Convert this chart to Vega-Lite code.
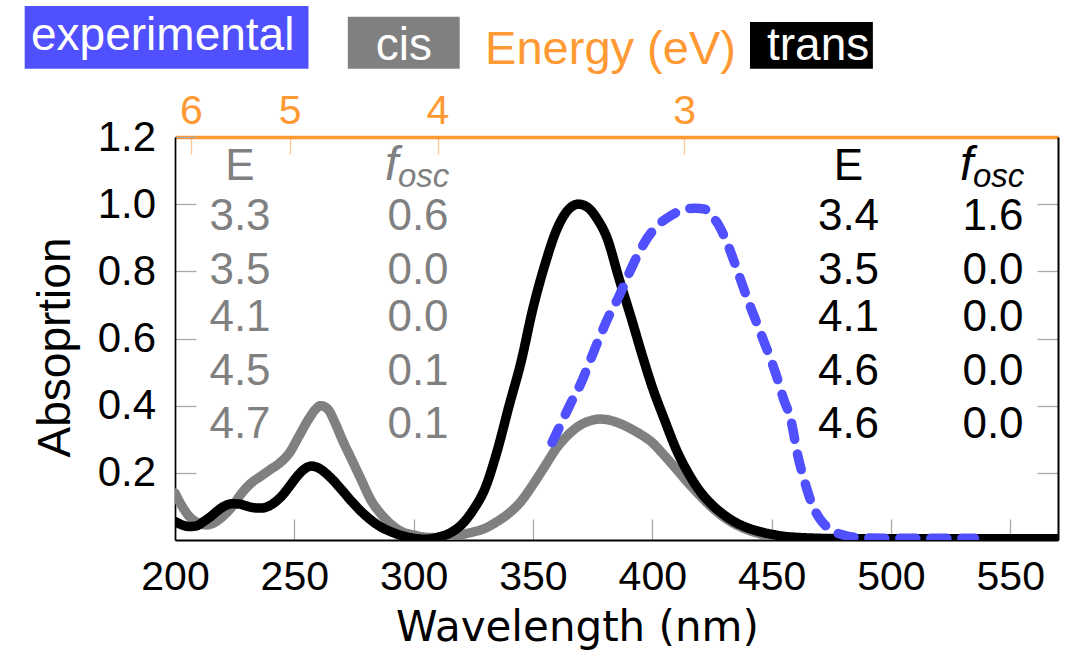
{
  "$schema": "https://vega.github.io/schema/vega-lite/v6.json",
  "width": 883,
  "height": 403,
  "autosize": {"type": "none"},
  "padding": {"left": 175, "top": 137, "right": 19, "bottom": 124},
  "background": "white",
  "config": {
    "font": "Liberation Sans",
    "view": {"stroke": null},
    "axis": {"grid": false, "labelFlush": false, "labelOverlap": false, "titleFontWeight": "normal", "labelFont": "Liberation Sans", "titleFont": "Liberation Sans"}
  },
  "datasets": {
    "curves": [
      {"series": "cis", "wavelength": 200, "absorption": 0.14},
      {"series": "cis", "wavelength": 203, "absorption": 0.10},
      {"series": "cis", "wavelength": 206, "absorption": 0.07},
      {"series": "cis", "wavelength": 210, "absorption": 0.05},
      {"series": "cis", "wavelength": 213, "absorption": 0.045},
      {"series": "cis", "wavelength": 216, "absorption": 0.05},
      {"series": "cis", "wavelength": 220, "absorption": 0.07},
      {"series": "cis", "wavelength": 224, "absorption": 0.10},
      {"series": "cis", "wavelength": 228, "absorption": 0.14},
      {"series": "cis", "wavelength": 232, "absorption": 0.17},
      {"series": "cis", "wavelength": 236, "absorption": 0.19},
      {"series": "cis", "wavelength": 240, "absorption": 0.21},
      {"series": "cis", "wavelength": 244, "absorption": 0.23},
      {"series": "cis", "wavelength": 248, "absorption": 0.26},
      {"series": "cis", "wavelength": 252, "absorption": 0.31},
      {"series": "cis", "wavelength": 256, "absorption": 0.36},
      {"series": "cis", "wavelength": 259, "absorption": 0.39},
      {"series": "cis", "wavelength": 261, "absorption": 0.40},
      {"series": "cis", "wavelength": 264, "absorption": 0.39},
      {"series": "cis", "wavelength": 267, "absorption": 0.35},
      {"series": "cis", "wavelength": 270, "absorption": 0.30},
      {"series": "cis", "wavelength": 274, "absorption": 0.24},
      {"series": "cis", "wavelength": 278, "absorption": 0.18},
      {"series": "cis", "wavelength": 282, "absorption": 0.12},
      {"series": "cis", "wavelength": 286, "absorption": 0.08},
      {"series": "cis", "wavelength": 290, "absorption": 0.05},
      {"series": "cis", "wavelength": 295, "absorption": 0.025},
      {"series": "cis", "wavelength": 300, "absorption": 0.015},
      {"series": "cis", "wavelength": 305, "absorption": 0.008},
      {"series": "cis", "wavelength": 310, "absorption": 0.007},
      {"series": "cis", "wavelength": 315, "absorption": 0.01},
      {"series": "cis", "wavelength": 320, "absorption": 0.016},
      {"series": "cis", "wavelength": 325, "absorption": 0.024},
      {"series": "cis", "wavelength": 330, "absorption": 0.035},
      {"series": "cis", "wavelength": 335, "absorption": 0.055},
      {"series": "cis", "wavelength": 340, "absorption": 0.08},
      {"series": "cis", "wavelength": 345, "absorption": 0.115},
      {"series": "cis", "wavelength": 350, "absorption": 0.165},
      {"series": "cis", "wavelength": 355, "absorption": 0.22},
      {"series": "cis", "wavelength": 360, "absorption": 0.275},
      {"series": "cis", "wavelength": 365, "absorption": 0.315},
      {"series": "cis", "wavelength": 370, "absorption": 0.343},
      {"series": "cis", "wavelength": 375, "absorption": 0.357},
      {"series": "cis", "wavelength": 378, "absorption": 0.36},
      {"series": "cis", "wavelength": 382, "absorption": 0.357},
      {"series": "cis", "wavelength": 386, "absorption": 0.348},
      {"series": "cis", "wavelength": 390, "absorption": 0.335},
      {"series": "cis", "wavelength": 395, "absorption": 0.315},
      {"series": "cis", "wavelength": 400, "absorption": 0.29},
      {"series": "cis", "wavelength": 405, "absorption": 0.252},
      {"series": "cis", "wavelength": 410, "absorption": 0.212},
      {"series": "cis", "wavelength": 415, "absorption": 0.17},
      {"series": "cis", "wavelength": 420, "absorption": 0.132},
      {"series": "cis", "wavelength": 425, "absorption": 0.097},
      {"series": "cis", "wavelength": 430, "absorption": 0.068},
      {"series": "cis", "wavelength": 435, "absorption": 0.046},
      {"series": "cis", "wavelength": 440, "absorption": 0.03},
      {"series": "cis", "wavelength": 445, "absorption": 0.019},
      {"series": "cis", "wavelength": 450, "absorption": 0.012},
      {"series": "cis", "wavelength": 455, "absorption": 0.008},
      {"series": "cis", "wavelength": 460, "absorption": 0.005},
      {"series": "cis", "wavelength": 470, "absorption": 0.003},
      {"series": "cis", "wavelength": 480, "absorption": 0.002},
      {"series": "cis", "wavelength": 570, "absorption": 0.002},
      {"series": "trans", "wavelength": 200, "absorption": 0.055},
      {"series": "trans", "wavelength": 203, "absorption": 0.045},
      {"series": "trans", "wavelength": 206, "absorption": 0.04},
      {"series": "trans", "wavelength": 209, "absorption": 0.042},
      {"series": "trans", "wavelength": 212, "absorption": 0.055},
      {"series": "trans", "wavelength": 215, "absorption": 0.07},
      {"series": "trans", "wavelength": 218, "absorption": 0.088},
      {"series": "trans", "wavelength": 221, "absorption": 0.102},
      {"series": "trans", "wavelength": 224, "absorption": 0.108},
      {"series": "trans", "wavelength": 227, "absorption": 0.107},
      {"series": "trans", "wavelength": 230, "absorption": 0.101},
      {"series": "trans", "wavelength": 233, "absorption": 0.096},
      {"series": "trans", "wavelength": 236, "absorption": 0.095},
      {"series": "trans", "wavelength": 239, "absorption": 0.1},
      {"series": "trans", "wavelength": 242, "absorption": 0.113},
      {"series": "trans", "wavelength": 245, "absorption": 0.133},
      {"series": "trans", "wavelength": 248, "absorption": 0.16},
      {"series": "trans", "wavelength": 251, "absorption": 0.188},
      {"series": "trans", "wavelength": 254, "absorption": 0.21},
      {"series": "trans", "wavelength": 257, "absorption": 0.22},
      {"series": "trans", "wavelength": 260, "absorption": 0.215},
      {"series": "trans", "wavelength": 263, "absorption": 0.2},
      {"series": "trans", "wavelength": 266, "absorption": 0.18},
      {"series": "trans", "wavelength": 270, "absorption": 0.148},
      {"series": "trans", "wavelength": 274, "absorption": 0.115},
      {"series": "trans", "wavelength": 278, "absorption": 0.085},
      {"series": "trans", "wavelength": 282, "absorption": 0.06},
      {"series": "trans", "wavelength": 286, "absorption": 0.04},
      {"series": "trans", "wavelength": 290, "absorption": 0.026},
      {"series": "trans", "wavelength": 295, "absorption": 0.013},
      {"series": "trans", "wavelength": 300, "absorption": 0.005},
      {"series": "trans", "wavelength": 305, "absorption": 0.002},
      {"series": "trans", "wavelength": 310, "absorption": 0.008},
      {"series": "trans", "wavelength": 315, "absorption": 0.02},
      {"series": "trans", "wavelength": 320, "absorption": 0.045},
      {"series": "trans", "wavelength": 325, "absorption": 0.09},
      {"series": "trans", "wavelength": 330, "absorption": 0.155},
      {"series": "trans", "wavelength": 335, "absorption": 0.265},
      {"series": "trans", "wavelength": 340, "absorption": 0.4},
      {"series": "trans", "wavelength": 345, "absorption": 0.53},
      {"series": "trans", "wavelength": 350, "absorption": 0.69},
      {"series": "trans", "wavelength": 355, "absorption": 0.82},
      {"series": "trans", "wavelength": 360, "absorption": 0.925},
      {"series": "trans", "wavelength": 365, "absorption": 0.985},
      {"series": "trans", "wavelength": 369, "absorption": 1.0},
      {"series": "trans", "wavelength": 373, "absorption": 0.99},
      {"series": "trans", "wavelength": 377, "absorption": 0.955},
      {"series": "trans", "wavelength": 381, "absorption": 0.9},
      {"series": "trans", "wavelength": 386, "absorption": 0.78},
      {"series": "trans", "wavelength": 391, "absorption": 0.665},
      {"series": "trans", "wavelength": 396, "absorption": 0.545},
      {"series": "trans", "wavelength": 400, "absorption": 0.455},
      {"series": "trans", "wavelength": 405, "absorption": 0.36},
      {"series": "trans", "wavelength": 410, "absorption": 0.27},
      {"series": "trans", "wavelength": 415, "absorption": 0.2},
      {"series": "trans", "wavelength": 420, "absorption": 0.145},
      {"series": "trans", "wavelength": 425, "absorption": 0.105},
      {"series": "trans", "wavelength": 430, "absorption": 0.075},
      {"series": "trans", "wavelength": 435, "absorption": 0.052},
      {"series": "trans", "wavelength": 440, "absorption": 0.036},
      {"series": "trans", "wavelength": 445, "absorption": 0.025},
      {"series": "trans", "wavelength": 450, "absorption": 0.017},
      {"series": "trans", "wavelength": 455, "absorption": 0.011},
      {"series": "trans", "wavelength": 460, "absorption": 0.008},
      {"series": "trans", "wavelength": 470, "absorption": 0.005},
      {"series": "trans", "wavelength": 480, "absorption": 0.004},
      {"series": "trans", "wavelength": 570, "absorption": 0.004},
      {"series": "experimental", "wavelength": 358, "absorption": 0.29},
      {"series": "experimental", "wavelength": 362, "absorption": 0.35},
      {"series": "experimental", "wavelength": 366, "absorption": 0.41},
      {"series": "experimental", "wavelength": 370, "absorption": 0.465},
      {"series": "experimental", "wavelength": 374, "absorption": 0.535},
      {"series": "experimental", "wavelength": 378, "absorption": 0.605},
      {"series": "experimental", "wavelength": 382, "absorption": 0.67},
      {"series": "experimental", "wavelength": 386, "absorption": 0.725},
      {"series": "experimental", "wavelength": 390, "absorption": 0.79},
      {"series": "experimental", "wavelength": 394, "absorption": 0.85},
      {"series": "experimental", "wavelength": 398, "absorption": 0.9},
      {"series": "experimental", "wavelength": 402, "absorption": 0.935},
      {"series": "experimental", "wavelength": 406, "absorption": 0.958},
      {"series": "experimental", "wavelength": 410, "absorption": 0.975},
      {"series": "experimental", "wavelength": 414, "absorption": 0.985},
      {"series": "experimental", "wavelength": 418, "absorption": 0.988},
      {"series": "experimental", "wavelength": 422, "absorption": 0.985},
      {"series": "experimental", "wavelength": 425, "absorption": 0.965},
      {"series": "experimental", "wavelength": 428, "absorption": 0.935},
      {"series": "experimental", "wavelength": 431, "absorption": 0.89},
      {"series": "experimental", "wavelength": 434, "absorption": 0.835},
      {"series": "experimental", "wavelength": 437, "absorption": 0.775},
      {"series": "experimental", "wavelength": 440, "absorption": 0.715},
      {"series": "experimental", "wavelength": 443, "absorption": 0.66},
      {"series": "experimental", "wavelength": 446, "absorption": 0.605},
      {"series": "experimental", "wavelength": 449, "absorption": 0.55},
      {"series": "experimental", "wavelength": 452, "absorption": 0.49},
      {"series": "experimental", "wavelength": 455, "absorption": 0.42},
      {"series": "experimental", "wavelength": 458, "absorption": 0.36},
      {"series": "experimental", "wavelength": 461, "absorption": 0.25},
      {"series": "experimental", "wavelength": 464, "absorption": 0.17},
      {"series": "experimental", "wavelength": 467, "absorption": 0.105},
      {"series": "experimental", "wavelength": 470, "absorption": 0.065},
      {"series": "experimental", "wavelength": 473, "absorption": 0.04},
      {"series": "experimental", "wavelength": 476, "absorption": 0.025},
      {"series": "experimental", "wavelength": 480, "absorption": 0.015},
      {"series": "experimental", "wavelength": 485, "absorption": 0.008},
      {"series": "experimental", "wavelength": 490, "absorption": 0.006},
      {"series": "experimental", "wavelength": 500, "absorption": 0.005},
      {"series": "experimental", "wavelength": 510, "absorption": 0.005},
      {"series": "experimental", "wavelength": 520, "absorption": 0.005},
      {"series": "experimental", "wavelength": 535, "absorption": 0.005}
    ],
    "table": [
      {"isomer": "cis", "quantity": "E", "rank": 0, "label": "E"},
      {"isomer": "cis", "quantity": "f", "rank": 0, "label": "f", "sub": "osc"},
      {"isomer": "cis", "quantity": "E", "rank": 1, "label": "3.3"},
      {"isomer": "cis", "quantity": "f", "rank": 1, "label": "0.6"},
      {"isomer": "cis", "quantity": "E", "rank": 2, "label": "3.5"},
      {"isomer": "cis", "quantity": "f", "rank": 2, "label": "0.0"},
      {"isomer": "cis", "quantity": "E", "rank": 3, "label": "4.1"},
      {"isomer": "cis", "quantity": "f", "rank": 3, "label": "0.0"},
      {"isomer": "cis", "quantity": "E", "rank": 4, "label": "4.5"},
      {"isomer": "cis", "quantity": "f", "rank": 4, "label": "0.1"},
      {"isomer": "cis", "quantity": "E", "rank": 5, "label": "4.7"},
      {"isomer": "cis", "quantity": "f", "rank": 5, "label": "0.1"},
      {"isomer": "trans", "quantity": "E", "rank": 0, "label": "E"},
      {"isomer": "trans", "quantity": "f", "rank": 0, "label": "f", "sub": "osc"},
      {"isomer": "trans", "quantity": "E", "rank": 1, "label": "3.4"},
      {"isomer": "trans", "quantity": "f", "rank": 1, "label": "1.6"},
      {"isomer": "trans", "quantity": "E", "rank": 2, "label": "3.5"},
      {"isomer": "trans", "quantity": "f", "rank": 2, "label": "0.0"},
      {"isomer": "trans", "quantity": "E", "rank": 3, "label": "4.1"},
      {"isomer": "trans", "quantity": "f", "rank": 3, "label": "0.0"},
      {"isomer": "trans", "quantity": "E", "rank": 4, "label": "4.6"},
      {"isomer": "trans", "quantity": "f", "rank": 4, "label": "0.0"},
      {"isomer": "trans", "quantity": "E", "rank": 5, "label": "4.6"},
      {"isomer": "trans", "quantity": "f", "rank": 5, "label": "0.0"}
    ],
    "legend": [
      {"series": "experimental", "order": 0},
      {"series": "cis", "order": 1},
      {"series": "trans", "order": 2}
    ]
  },
  "layer": [
    {
      "data": {"name": "curves"},
      "mark": {"type": "line", "clip": true, "strokeCap": "round", "strokeJoin": "round", "interpolate": "monotone", "strokeWidth": 9.5},
      "encoding": {
        "x": {
          "field": "wavelength", "type": "quantitative",
          "scale": {"domain": [200, 570], "nice": false, "zero": false},
          "axis": {
            "orient": "bottom", "values": [200, 250, 300, 350, 400, 450, 500, 550], "format": "d",
            "title": "Wavelength (nm)", "titleFont": "DejaVu Sans", "titleFontSize": 42, "titleX": 402, "titleY": 100, "titleAlign": "center", "titleBaseline": "alphabetic", "titleColor": "#000000",
            "labelFontSize": 41, "labelBaseline": "alphabetic", "labelPadding": 70.5, "labelColor": "#000000",
            "tickSize": -21, "tickColor": "#aaaaaa", "tickWidth": 1.3,
            "domainColor": "#000000", "domainWidth": 2
          }
        },
        "y": {
          "field": "absorption", "type": "quantitative",
          "scale": {"domain": [0, 1.2], "nice": false, "zero": false},
          "axis": {
            "orient": "left", "values": [0.2, 0.4, 0.6, 0.8, 1.0, 1.2], "format": ".1f",
            "title": "Absoprtion", "titleFontSize": 46, "titleX": -106, "titleY": 210, "titleAlign": "center", "titleBaseline": "alphabetic", "titleColor": "#000000",
            "labelFontSize": 42, "labelPadding": 40.4, "labelColor": "#000000",
            "tickSize": -21, "tickColor": "#aaaaaa", "tickWidth": 1.3,
            "domainColor": "#000000", "domainWidth": 1.7
          }
        },
        "color": {"field": "series", "type": "nominal", "scale": {"domain": ["experimental", "cis", "trans"], "range": ["#5050FF", "#808080", "#000000"]}, "legend": null},
        "strokeDash": {"field": "series", "type": "nominal", "scale": {"domain": ["experimental", "cis", "trans"], "range": [[16, 15], [1, 0], [1, 0]]}, "legend": null}
      }
    },
    {
      "data": {"name": "curves"},
      "mark": {"type": "point", "opacity": 0},
      "encoding": {
        "x": {
          "field": "wavelength", "type": "quantitative",
          "scale": {"domain": [200, 570], "nice": false, "zero": false},
          "axis": {
            "orient": "top", "values": [206.6667, 248, 310, 413.3333],
            "labelExpr": "format(1240 / datum.value, '.0f')",
            "labelColor": "#FF9933", "labelFontSize": 41, "labelBaseline": "alphabetic", "labelPadding": 31,
            "tickSize": -17, "tickColor": "#FFC994", "tickWidth": 1.3,
            "domainColor": "#FF9933", "domainWidth": 3.5,
            "title": "Energy (eV)", "titleColor": "#FF9933", "titleFontSize": 47, "titleX": 435, "titleY": -73.7, "titleAlign": "center", "titleBaseline": "alphabetic"
          }
        },
        "y": {
          "field": "absorption", "type": "quantitative",
          "scale": {"domain": [0, 1.2], "nice": false, "zero": false},
          "axis": {
            "orient": "right", "values": [0.2, 0.4, 0.6, 0.8, 1.0], "labels": false, "title": null,
            "tickSize": -21, "tickColor": "#aaaaaa", "tickWidth": 1.3,
            "domainColor": "#000000", "domainWidth": 2
          }
        }
      }
    },
    {
      "data": {"name": "table"},
      "transform": [{"filter": "datum.isomer == 'cis' && datum.label != 'f'"}],
      "mark": {"type": "text", "fontSize": 44, "baseline": "alphabetic", "align": "center", "color": "#808080"},
      "encoding": {
        "x": {"field": "quantity", "type": "nominal", "scale": {"type": "point", "domain": ["E", "f"], "range": [65, 243], "padding": 0}, "axis": null},
        "y": {"field": "rank", "type": "quantitative", "scale": {"domain": [0, 1, 2, 3, 4, 5], "range": [43, 93, 147, 194, 248, 301.3], "nice": false, "zero": false}, "axis": null},
        "text": {"field": "label"}
      }
    },
    {
      "data": {"name": "table"},
      "transform": [{"filter": "datum.isomer == 'trans' && datum.label != 'f'"}],
      "mark": {"type": "text", "fontSize": 44, "baseline": "alphabetic", "align": "center", "color": "#000000"},
      "encoding": {
        "x": {"field": "quantity", "type": "nominal", "scale": {"type": "point", "domain": ["E", "f"], "range": [673.5, 818], "padding": 0}, "axis": null},
        "y": {"field": "rank", "type": "quantitative", "scale": {"domain": [0, 1, 2, 3, 4, 5], "range": [43, 93, 147, 194, 248, 301.3], "nice": false, "zero": false}, "axis": null},
        "text": {"field": "label"}
      }
    },
    {
      "data": {"name": "table"},
      "transform": [{"filter": "datum.label == 'f'"}],
      "mark": {"type": "text", "fontSize": 48, "fontStyle": "italic", "baseline": "alphabetic", "align": "left", "dx": -33},
      "encoding": {
        "x": {"field": "isomer", "type": "nominal", "scale": {"type": "point", "domain": ["cis", "trans"], "range": [243, 818], "padding": 0}, "axis": null},
        "y": {"field": "rank", "type": "quantitative", "scale": {"domain": [0, 1, 2, 3, 4, 5], "range": [43, 93, 147, 194, 248, 301.3], "nice": false, "zero": false}, "axis": null},
        "color": {"field": "isomer", "type": "nominal", "scale": {"domain": ["cis", "trans"], "range": ["#808080", "#000000"]}, "legend": null},
        "text": {"field": "label"}
      }
    },
    {
      "data": {"name": "table"},
      "transform": [{"filter": "datum.label == 'f'"}],
      "mark": {"type": "text", "fontSize": 33, "fontStyle": "italic", "baseline": "alphabetic", "align": "left", "dx": -20, "dy": 6.7},
      "encoding": {
        "x": {"field": "isomer", "type": "nominal", "scale": {"type": "point", "domain": ["cis", "trans"], "range": [243, 818], "padding": 0}, "axis": null},
        "y": {"field": "rank", "type": "quantitative", "scale": {"domain": [0, 1, 2, 3, 4, 5], "range": [43, 93, 147, 194, 248, 301.3], "nice": false, "zero": false}, "axis": null},
        "color": {"field": "isomer", "type": "nominal", "scale": {"domain": ["cis", "trans"], "range": ["#808080", "#000000"]}, "legend": null},
        "text": {"field": "sub"}
      }
    },
    {
      "data": {"name": "legend"},
      "mark": {"type": "bar", "orient": "vertical"},
      "encoding": {
        "x": {"field": "order", "type": "quantitative", "scale": {"domain": [0, 1, 2], "range": [-12.1, 228.75, 642.75], "nice": false, "zero": false}, "axis": null},
        "size": {"field": "order", "type": "quantitative", "scale": {"domain": [0, 1, 2], "range": [283.8, 111.9, 122.9], "nice": false, "zero": false}, "legend": null},
        "y": {"field": "order", "type": "quantitative", "scale": {"domain": [0, 1, 2, 3], "range": [-131, -120.3, -115, -68.3], "nice": false, "zero": false}, "axis": null},
        "y2": {"datum": 3},
        "color": {"field": "series", "type": "nominal", "scale": {"domain": ["experimental", "cis", "trans"], "range": ["#5050FF", "#808080", "#000000"]}, "legend": null}
      }
    },
    {
      "data": {"name": "legend"},
      "mark": {"type": "text", "fontSize": 46, "baseline": "alphabetic", "align": "center", "color": "#ffffff"},
      "encoding": {
        "x": {"field": "order", "type": "quantitative", "scale": {"domain": [0, 1, 2], "range": [-12.3, 228.9, 643.1], "nice": false, "zero": false}, "axis": null},
        "y": {"field": "order", "type": "quantitative", "scale": {"domain": [0, 1, 2], "range": [-87, -77, -77], "nice": false, "zero": false}, "axis": null},
        "text": {"field": "series"}
      }
    }
  ],
  "resolve": {
    "scale": {"x": "independent", "y": "independent", "color": "independent", "size": "independent", "strokeDash": "independent"},
    "axis": {"x": "independent", "y": "independent"}
  }
}
